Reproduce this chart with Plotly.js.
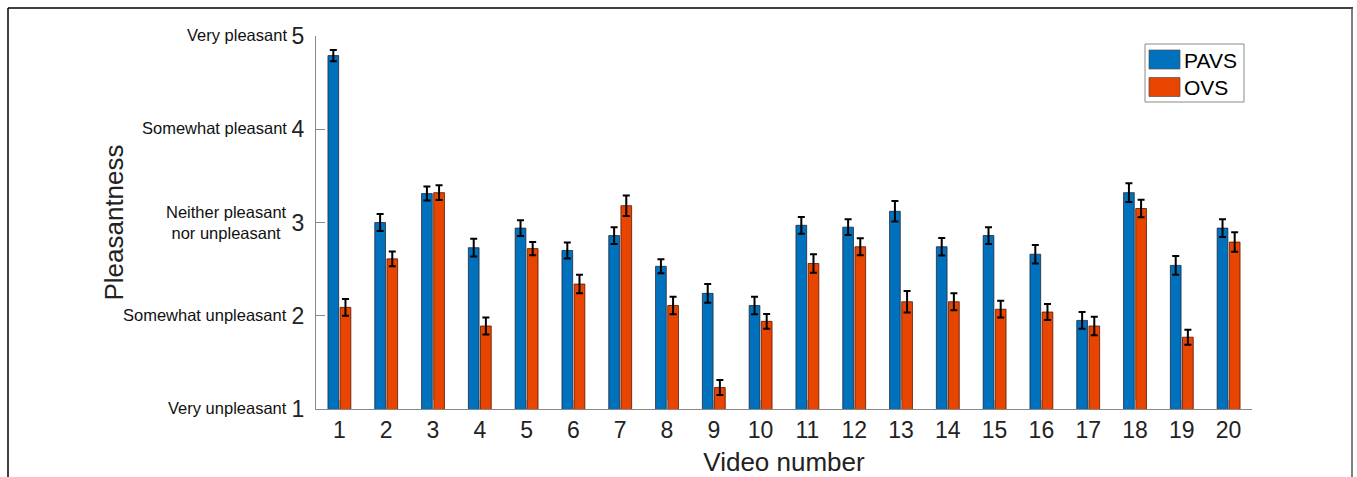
<!DOCTYPE html>
<html>
<head>
<meta charset="utf-8">
<script src="https://cdn.plot.ly/plotly-3.0.1.min.js"></script>
<style>
  html, body { margin: 0; padding: 0; background: #ffffff; }
  #chart { width: 1357px; height: 477px; }
</style>
</head>
<body>
<div id="chart"></div>
<script>
// ---- Data ----
const videos = [1,2,3,4,5,6,7,8,9,10,11,12,13,14,15,16,17,18,19,20];
const pavs    = [4.79,3.00,3.31,2.73,2.94,2.70,2.86,2.53,2.24,2.11,2.97,2.95,3.12,2.74,2.86,2.66,1.95,3.32,2.54,2.94];
const pavsErr = [0.06,0.09,0.075,0.095,0.085,0.085,0.09,0.075,0.10,0.095,0.09,0.085,0.11,0.095,0.09,0.10,0.09,0.10,0.10,0.095];
const ovs     = [2.09,2.61,3.32,1.89,2.72,2.34,3.18,2.11,1.23,1.94,2.56,2.74,2.15,2.15,2.07,2.04,1.89,3.15,1.77,2.79];
const ovsErr  = [0.09,0.08,0.08,0.09,0.07,0.10,0.11,0.095,0.08,0.08,0.10,0.09,0.115,0.09,0.09,0.085,0.10,0.095,0.08,0.105];
const yTickVals = [1,2,3,4,5];
const yTickNames = ["Very unpleasant","Somewhat unpleasant","Neither pleasant<br>nor unpleasant","Somewhat pleasant","Very pleasant"];
const seriesNames = ["PAVS","OVS"];

// ---- Layout constants ----
const W = 1357, H = 477;
const M = {l: 316, r: 105, t: 36, b: 68};
const plotW = W - M.l - M.r, plotH = H - M.t - M.b;
const px2x = p => (p - M.l) / plotW;
const px2y = p => (H - M.b - p) / plotH;
const FONT = "Liberation Sans, Arial, Helvetica, sans-serif";
const COLORS = ["rgb(0,114,189)", "rgb(232,70,0)"];
const EDGES = ["rgba(30,30,50,0.75)", "rgba(90,20,0,0.8)"];

const errStyle = {type: "data", visible: true, color: "#000000", thickness: 2, width: 3.5};

const traces = [
  {type: "bar", name: seriesNames[0], x: videos, y: pavs, showlegend: false,
   error_y: Object.assign({array: pavsErr}, errStyle),
   marker: {color: COLORS[0], line: {color: EDGES[0], width: 1}}},
  {type: "bar", name: seriesNames[1], x: videos, y: ovs, showlegend: false,
   error_y: Object.assign({array: ovsErr}, errStyle),
   marker: {color: COLORS[1], line: {color: EDGES[1], width: 1}}}
];

const annotations = yTickVals.map((v, i) => ({
  xref: "paper", yref: "y", x: 0, y: v,
  xanchor: "right", yanchor: "middle",
  xshift: -27, yshift: i === 2 ? 0 : 1,
  align: i === 2 ? "center" : "right",
  text: yTickNames[i], showarrow: false,
  font: {family: FONT, size: 16.5, color: "#111111"}
}));

const shapes = [
  {type: "line", xref: "paper", yref: "paper", x0: px2x(8), x1: px2x(1353), y0: px2y(8), y1: px2y(8),
   line: {color: "#000000", width: 1.5}},
  {type: "line", xref: "paper", yref: "paper", x0: px2x(8), x1: px2x(8), y0: px2y(8), y1: px2y(480),
   line: {color: "#000000", width: 1.5}},
  {type: "line", xref: "paper", yref: "paper", x0: px2x(1352), x1: px2x(1352), y0: px2y(8), y1: px2y(480),
   line: {color: "#555555", width: 1.5}},
  // legend box
  {type: "rect", xref: "paper", yref: "paper", x0: px2x(1145), x1: px2x(1244), y0: px2y(44), y1: px2y(102),
   line: {color: "#8a8a8a", width: 1}, fillcolor: "#ffffff", layer: "above"}
];

// legend entries (swatch + label)
seriesNames.forEach((name, i) => {
  const top = 50 + i * 27.5;
  shapes.push({type: "rect", xref: "paper", yref: "paper",
    x0: px2x(1149), x1: px2x(1180), y0: px2y(top), y1: px2y(top + 19),
    fillcolor: COLORS[i], line: {color: "rgba(80,80,80,0.7)", width: 1}, layer: "above"});
  annotations.push({xref: "paper", yref: "paper", x: px2x(1182), y: px2y(top + 10),
    xanchor: "left", yanchor: "middle", text: name, showarrow: false,
    font: {family: FONT, size: 21, color: "#000000"}});
});

const layout = {
  width: W, height: H,
  margin: M,
  paper_bgcolor: "#ffffff", plot_bgcolor: "#ffffff",
  barmode: "group", bargap: 0.48, bargroupgap: 0.12,
  font: {family: FONT, color: "#111111"},
  showlegend: false,
  xaxis: {
    range: [0.5, 20.5], tickmode: "array", tickvals: videos, ticktext: videos.map(String),
    ticks: "inside", ticklen: 9, tickcolor: "#888888", tickwidth: 1,
    showline: true, linecolor: "#888888", linewidth: 1.2,
    showgrid: false, zeroline: false,
    tickfont: {family: FONT, size: 23, color: "#222222"},
    title: {text: "Video number", font: {family: FONT, size: 26, color: "#222222"}, standoff: 14},
    fixedrange: true
  },
  yaxis: {
    range: [1, 5], tickmode: "array", tickvals: yTickVals, ticktext: yTickVals.map(String),
    ticks: "inside", ticklen: 9, tickcolor: "#888888", tickwidth: 1,
    showline: true, linecolor: "#888888", linewidth: 1.2,
    showgrid: false, zeroline: false,
    tickfont: {family: FONT, size: 23, color: "#222222"},
    ticklabelstandoff: 6,
    title: {text: "Pleasantness", font: {family: FONT, size: 26, color: "#222222"}, standoff: 160},
    fixedrange: true
  },
  annotations: annotations,
  shapes: shapes
};

Plotly.newPlot("chart", traces, layout, {displayModeBar: false, staticPlot: true});
</script>
</body>
</html>
